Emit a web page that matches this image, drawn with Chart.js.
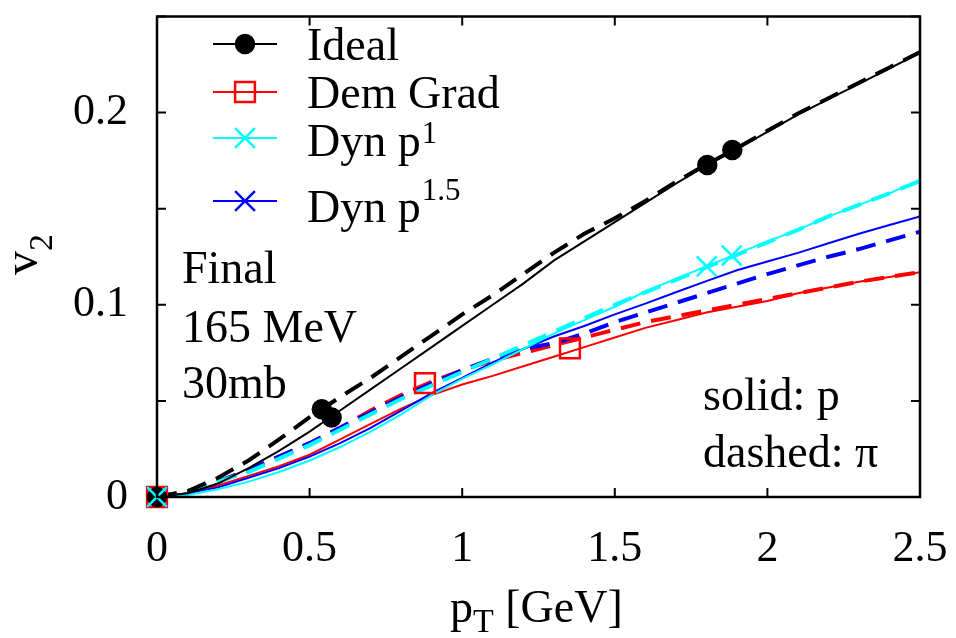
<!DOCTYPE html>
<html lang="en">
<head>
    <meta charset="UTF-8">
    <title>v2 vs pT</title>
    <style>
        * { margin: 0; padding: 0; box-sizing: border-box; }
        body { background: #fff; width: 956px; height: 638px; overflow: hidden; }
        .chart-box { position: relative; width: 956px; height: 638px; }
        canvas { display: block; }
    </style>
</head>
<body>
    <div class="chart-box">
        <canvas id="v2Chart" width="956" height="638"></canvas>
    </div>

    <script src="https://cdn.jsdelivr.net/npm/chart.js"></script>
    <script>
        // ---- data ----
        const pT = [0, 0.1, 0.2, 0.3, 0.4, 0.5, 0.6, 0.7, 0.8, 0.9, 1.0, 1.1, 1.2, 1.3,
                    1.4, 1.5, 1.6, 1.7, 1.8, 1.9, 2.0, 2.1, 2.2, 2.3, 2.4, 2.5];

        // solid = protons, dashed = pions
        const idealP   = [0, 0.002, 0.007, 0.015, 0.024, 0.034, 0.045, 0.056, 0.067, 0.078, 0.089, 0.100, 0.111, 0.123,
                          0.133, 0.143, 0.153, 0.163, 0.1725, 0.181, 0.190, 0.199, 0.207, 0.215, 0.223, 0.231];
        const idealPi  = [0, 0.003, 0.010, 0.019, 0.030, 0.0415, 0.052, 0.062, 0.073, 0.084, 0.095, 0.105, 0.116, 0.127,
                          0.137, 0.145, 0.154, 0.164, 0.173, 0.1815, 0.1905, 0.1995, 0.2075, 0.2155, 0.2235, 0.2315];
        const demP     = [0, 0.002, 0.006, 0.011, 0.016, 0.022, 0.030, 0.038, 0.046, 0.053, 0.0585, 0.063, 0.068, 0.073,
                          0.078, 0.083, 0.088, 0.092, 0.096, 0.099, 0.102, 0.106, 0.109, 0.112, 0.1145, 0.117];
        const demPi    = [0, 0.003, 0.008, 0.014, 0.021, 0.028, 0.036, 0.045, 0.053, 0.060, 0.066, 0.071, 0.075, 0.079,
                          0.083, 0.087, 0.091, 0.094, 0.097, 0.100, 0.103, 0.106, 0.109, 0.112, 0.1145, 0.117];
        const dyn1P    = [0, 0.001, 0.004, 0.008, 0.013, 0.019, 0.026, 0.034, 0.043, 0.053, 0.0615, 0.069, 0.077, 0.085,
                          0.092, 0.099, 0.107, 0.1135, 0.120, 0.1265, 0.133, 0.139, 0.146, 0.152, 0.158, 0.165];
        const dyn1Pi   = [0, 0.003, 0.008, 0.013, 0.020, 0.027, 0.035, 0.043, 0.051, 0.058, 0.065, 0.072, 0.079, 0.086,
                          0.093, 0.100, 0.1065, 0.113, 0.1195, 0.126, 0.1325, 0.139, 0.146, 0.152, 0.158, 0.1645];
        const dyn15P   = [0, 0.002, 0.005, 0.010, 0.015, 0.021, 0.028, 0.036, 0.045, 0.054, 0.062, 0.070, 0.077, 0.0835,
                          0.089, 0.095, 0.1006, 0.1065, 0.1123, 0.118, 0.1225, 0.127, 0.132, 0.137, 0.1415, 0.146];
        const dyn15Pi  = [0, 0.003, 0.008, 0.014, 0.021, 0.028, 0.036, 0.044, 0.052, 0.059, 0.066, 0.072, 0.077, 0.080,
                          0.085, 0.091, 0.096, 0.101, 0.106, 0.111, 0.116, 0.1205, 0.125, 0.129, 0.1335, 0.138];

        // point markers
        const idealMarkX = [0, 0.54, 0.572, 1.803, 1.885];
        const idealMarkY = [0, 0.0456, 0.0413, 0.1728, 0.1806];
        const demMarkX   = [0, 0.878, 1.353];
        const demMarkY   = [0, 0.0593, 0.0773];
        const dyn1MarkX  = [0, 1.801, 1.883];
        const dyn1MarkY  = [0, 0.120, 0.1256];
        const dyn15MarkX = [0];
        const dyn15MarkY = [0];

        const xTickLabels = ['0', '0.5', '1', '1.5', '2', '2.5'];
        const yTickLabels = ['0', '', '0.1', '', '0.2', ''];

        const FONT = "'Liberation Serif', 'Times New Roman', serif";

        function pts(xs, ys) {
            return xs.map((x, i) => ({ x: x, y: ys[i] }));
        }

        function lineSet(vals, color, dashed) {
            return {
                data: pts(pT, vals),
                showLine: true,
                borderColor: color,
                borderWidth: dashed ? 4 : 2,
                borderDash: dashed ? [20, 11] : [],
                pointRadius: 0,
                tension: 0,
                fill: false
            };
        }

        function markSet(xs, ys, style, color, radius, filled) {
            return {
                data: pts(xs, ys),
                showLine: false,
                clip: false,
                pointStyle: style,
                pointRadius: radius,
                pointBorderColor: color,
                pointBackgroundColor: filled ? color : 'rgba(0,0,0,0)',
                pointBorderWidth: 2.5
            };
        }

        const series = [
            { name: 'Ideal',    sup: '',    color: '#000000', style: 'circle',   r: 9,  filled: true },
            { name: 'Dem Grad', sup: '',    color: '#ff0000', style: 'rect',     r: 14, filled: false },
            { name: 'Dyn p',    sup: '1',   color: '#00ffff', style: 'crossRot', r: 14, filled: false },
            { name: 'Dyn p',    sup: '1.5', color: '#0000ff', style: 'crossRot', r: 14, filled: false }
        ];

        // inward ticks, frame, custom legend and labels
        const decorations = {
            id: 'decorations',
            afterDraw(chart) {
                const ctx = chart.ctx;
                const a = chart.chartArea;
                const xs = chart.scales.x, ys = chart.scales.y;
                ctx.save();
                ctx.strokeStyle = '#000';
                ctx.lineWidth = 2;
                xs.ticks.forEach(t => {
                    const px = xs.getPixelForValue(t.value);
                    ctx.beginPath();
                    ctx.moveTo(px, a.bottom); ctx.lineTo(px, a.bottom - 9);
                    ctx.moveTo(px, a.top); ctx.lineTo(px, a.top + 9);
                    ctx.stroke();
                });
                ys.ticks.forEach(t => {
                    const py = ys.getPixelForValue(t.value);
                    ctx.beginPath();
                    ctx.moveTo(a.left, py); ctx.lineTo(a.left + 9, py);
                    ctx.moveTo(a.right, py); ctx.lineTo(a.right - 9, py);
                    ctx.stroke();
                });
                ctx.lineWidth = 2.5;
                ctx.strokeRect(a.left, a.top, a.right - a.left, a.bottom - a.top);

                // legend
                const rowsY = [44, 92, 138, 201];
                const textDy = [16, 16, 18, 21];
                const supDy = [0, 0, 13, 22];
                series.forEach((s, i) => {
                    const y = rowsY[i];
                    ctx.strokeStyle = s.color;
                    ctx.lineWidth = 2;
                    ctx.beginPath();
                    ctx.moveTo(213, y); ctx.lineTo(277, y);
                    ctx.stroke();
                    ctx.fillStyle = s.filled ? s.color : 'rgba(0,0,0,0)';
                    ctx.lineWidth = 2.5;
                    Chart.helpers.drawPoint(ctx, {
                        pointStyle: s.style, radius: s.r, rotation: 0, borderWidth: 2.5
                    }, 245, y);

                    ctx.fillStyle = '#000';
                    ctx.textBaseline = 'alphabetic';
                    ctx.textAlign = 'left';
                    ctx.font = '46px ' + FONT;
                    ctx.fillText(s.name, 307, y + textDy[i]);
                    if (s.sup) {
                        const w = ctx.measureText(s.name).width;
                        ctx.font = '31px ' + FONT;
                        ctx.fillText(s.sup, 307 + w + 1, y + textDy[i] - supDy[i]);
                    }
                });

                // annotations
                ctx.fillStyle = '#000';
                ctx.font = '46px ' + FONT;
                ctx.textAlign = 'left';
                ctx.textBaseline = 'alphabetic';
                ctx.fillText('Final', 182, 283);
                ctx.fillText('165 MeV', 182, 342);
                ctx.fillText('30mb', 182, 398);
                ctx.fillText('solid: p', 703, 410);
                ctx.fillText('dashed: \u03c0', 703, 467);

                // x title
                ctx.fillText('p', 450, 622);
                const wp = ctx.measureText('p').width;
                ctx.font = '34px ' + FONT;
                ctx.fillText('T', 450 + wp, 632);
                const wt = ctx.measureText('T').width;
                ctx.font = '46px ' + FONT;
                ctx.fillText(' [GeV]', 450 + wp + wt, 622);

                // y title
                ctx.save();
                ctx.translate(37, 275);
                ctx.rotate(-Math.PI / 2);
                ctx.font = '48px ' + FONT;
                ctx.fillText('v', 0, 0);
                const wv = ctx.measureText('v').width;
                ctx.font = '34px ' + FONT;
                ctx.fillText('2', wv, 15);
                ctx.restore();

                ctx.restore();
            }
        };

        const datasets = [
            markSet(dyn1MarkX, dyn1MarkY, 'crossRot', '#00ffff', 14, false),
            markSet(dyn15MarkX, dyn15MarkY, 'crossRot', '#0000ff', 14, false),
            markSet(idealMarkX, idealMarkY, 'circle', '#000000', 9, true),
            markSet(demMarkX, demMarkY, 'rect', '#ff0000', 14, false),
            lineSet(idealP, '#000000', false),
            lineSet(idealPi, '#000000', true),
            lineSet(dyn1P, '#00ffff', false),
            lineSet(dyn1Pi, '#00ffff', true),
            lineSet(dyn15P, '#0000ff', false),
            lineSet(dyn15Pi, '#0000ff', true),
            lineSet(demP, '#ff0000', false),
            lineSet(demPi, '#ff0000', true)
        ];

        new Chart(document.getElementById('v2Chart'), {
            type: 'scatter',
            data: { datasets: datasets },
            plugins: [decorations],
            options: {
                responsive: false,
                animation: false,
                devicePixelRatio: 1,
                layout: { padding: { top: 12, right: 36, left: 0, bottom: 0 } },
                plugins: { legend: { display: false }, tooltip: { enabled: false } },
                scales: {
                    x: {
                        type: 'linear',
                        min: 0, max: 2.5,
                        border: { display: false },
                        grid: { display: false, drawTicks: false },
                        ticks: {
                            stepSize: 0.5,
                            maxRotation: 0,
                            padding: 26,
                            color: '#000',
                            font: { family: FONT, size: 44 },
                            callback: (v, i) => xTickLabels[i]
                        },
                        afterFit: s => {
                            s.height = 141;
                            s.paddingLeft = 0; s.paddingRight = 0;
                        }
                    },
                    y: {
                        type: 'linear',
                        min: 0, max: 0.25,
                        border: { display: false },
                        grid: { display: false, drawTicks: false },
                        ticks: {
                            stepSize: 0.05,
                            padding: 29,
                            color: '#000',
                            font: { family: FONT, size: 44 },
                            callback: (v, i) => yTickLabels[i]
                        },
                        afterFit: s => {
                            s.width = 157;
                            s.paddingTop = 0; s.paddingBottom = 0;
                        }
                    }
                }
            }
        });
    </script>
</body>
</html>
